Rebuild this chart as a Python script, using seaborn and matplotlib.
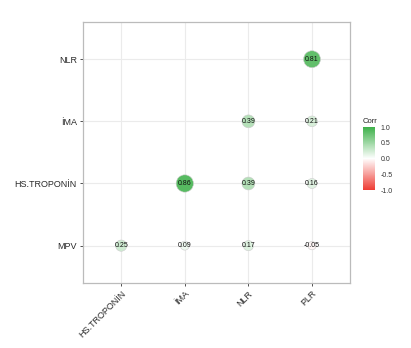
import numpy as np
import pandas as pd
import matplotlib
matplotlib.use("Agg")
import matplotlib.pyplot as plt
import seaborn as sns
from matplotlib.colors import LinearSegmentedColormap, Normalize
from matplotlib.cm import ScalarMappable

# ---- data ----
x_labels = ["HS.TROPONİN", "İMA", "NLR", "PLR"]
y_labels = ["MPV", "HS.TROPONİN", "İMA", "NLR"]   # bottom to top
row_MPV = [0.25, 0.09, 0.17, -0.05]
row_HS = [None, 0.86, 0.39, 0.16]
row_IMA = [None, None, 0.39, 0.21]
row_NLR = [None, None, None, 0.81]
rows = [row_MPV, row_HS, row_IMA, row_NLR]
cbar_ticks = [1.0, 0.5, 0.0, -0.5, -1.0]

recs = []
for ylab, row in zip(y_labels, rows):
    for xlab, v in zip(x_labels, row):
        if v is not None:
            recs.append({"Var1": xlab, "Var2": ylab, "Corr": v, "abs": abs(v)})
df = pd.DataFrame(recs)

plt.rcParams["font.family"] = ["Liberation Sans", "DejaVu Sans"]

cmap = LinearSegmentedColormap.from_list("rwg", ["#EE3B33", "#FFFFFF", "#3DB049"])
norm = Normalize(-1, 1)

fig = plt.figure(figsize=(4.11, 3.48), dpi=100)
ax = fig.add_axes([0.202, 0.187, 0.650, 0.750])

sns.scatterplot(data=df, x="Var1", y="Var2", hue="Corr", palette=cmap, hue_norm=norm,
                size="abs", sizes=(36, 155), size_norm=(0.05, 0.86),
                edgecolor="#CCCCCC", linewidth=0.4, legend=False, ax=ax, zorder=3)

for _, r in df.iterrows():
    xi = x_labels.index(r["Var1"])
    yi = y_labels.index(r["Var2"])
    ax.text(xi, yi, f"{r['Corr']:.2f}", ha="center", va="center",
            fontsize=5.0, color="#111111", zorder=4)

ax.set_xlim(-0.6, 3.6)
ax.set_ylim(-0.6, 3.6)
ax.set_xticks(range(4))
ax.set_xticklabels(x_labels, rotation=45, ha="right", rotation_mode="anchor", fontsize=6.5, color="#2A2A2A")
ax.set_yticks(range(4))
ax.set_yticklabels(y_labels, fontsize=6.5, color="#2A2A2A")
ax.set_xlabel("")
ax.set_ylabel("")
ax.grid(True, color="#EBEBEB", linewidth=0.8, zorder=0)
ax.set_axisbelow(True)
for s in ax.spines.values():
    s.set_color("#BBBBBB")
    s.set_linewidth(0.9)
ax.tick_params(length=2.5, width=0.6, color="#333333", pad=2)

cax = fig.add_axes([0.883, 0.454, 0.029, 0.181])
sm = ScalarMappable(norm=norm, cmap=cmap)
cb = fig.colorbar(sm, cax=cax, ticks=cbar_ticks)
cb.outline.set_visible(False)
cb.ax.tick_params(labelsize=5, length=2, width=0.5, color="white", pad=2)
cb.ax.set_yticklabels([f"{t:.1f}" for t in cbar_ticks], color="#333333")
cax.set_title("Corr", fontsize=5.5, loc="left", pad=3, color="#222222")

fig.savefig("out.png", dpi=100)
